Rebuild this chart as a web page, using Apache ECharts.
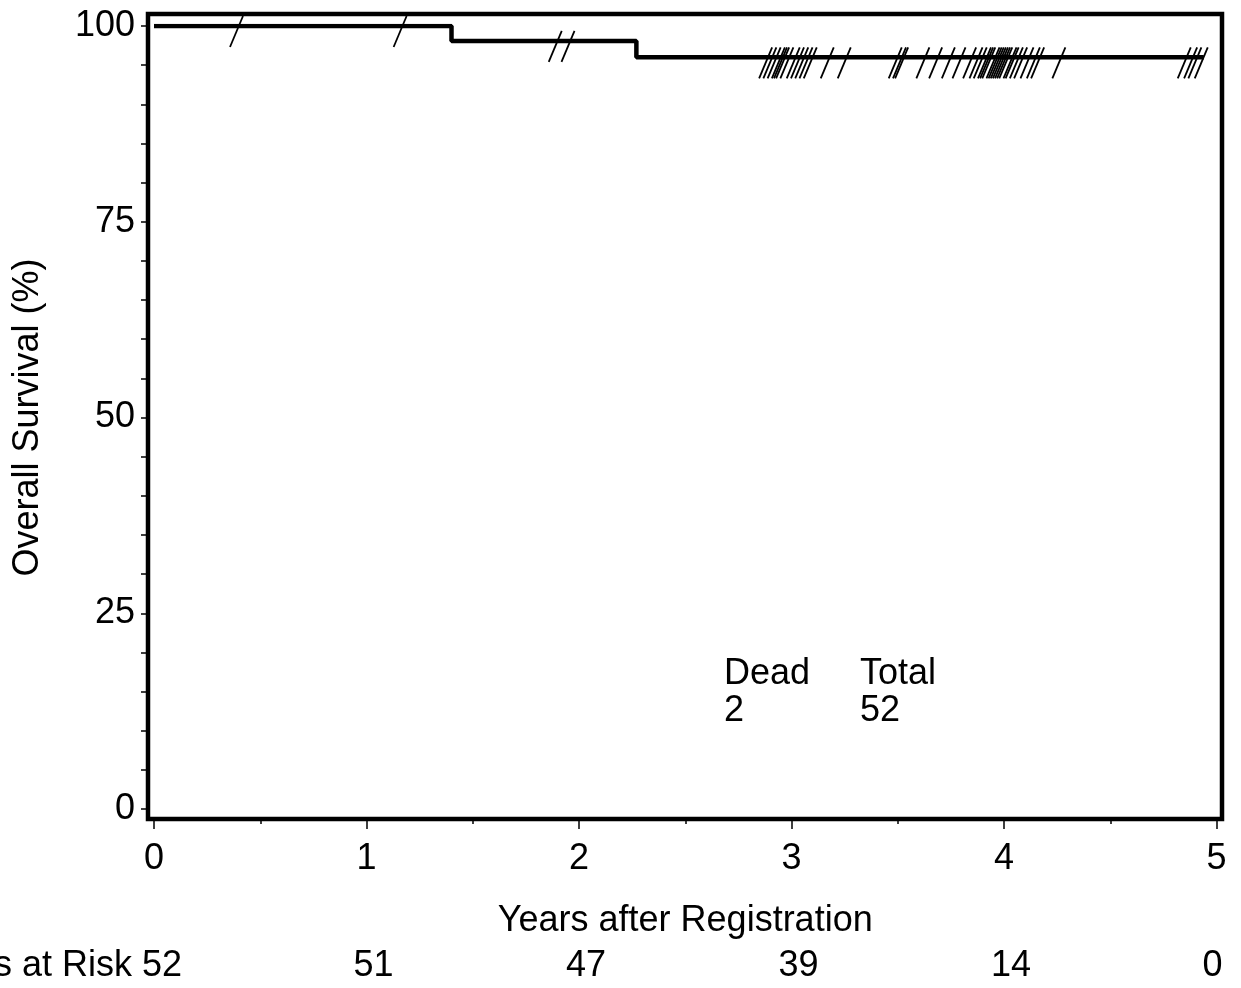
<!DOCTYPE html>
<html lang="en">

<head>
    <meta charset="UTF-8">
    <title>Overall Survival</title>
    <script src="https://cdnjs.cloudflare.com/ajax/libs/echarts/6.0.0/echarts.min.js"></script>
    <style>
        body {
            margin: 0;
            background: #fff;
        }
    </style>
</head>

<body>
    <div id="main" style="width: 1241px;height:988px;"></div>

    <script>
        // survival steps (years, %)
        const stepTimes = [0, 1.40, 2.27];
        const stepSurvival = [100, 98.1, 96.0];
        const lastFollowUp = 4.94;

        // censored patients (years)
        const censorTimes = [
            0.40, 1.17, 1.90, 1.96,
            2.89, 2.91, 2.93, 2.95, 2.96, 2.97, 2.99,
            3.02, 3.04, 3.06, 3.08, 3.10, 3.18, 3.26,
            3.50, 3.52, 3.53,
            3.63, 3.69, 3.75, 3.80, 3.85,
            3.88, 3.90, 3.92, 3.93, 3.94, 3.96, 3.97, 3.98, 3.99, 4.00,
            4.01, 4.02, 4.04, 4.05, 4.07, 4.09, 4.12, 4.15, 4.17, 4.27,
            4.86, 4.89, 4.91, 4.94
        ];

        const riskTimes = [0, 1, 2, 3, 4, 5];
        const atRisk = [52, 51, 47, 39, 14, 0];

        const summaryNames = ["Dead", "Total"];
        const summaryValues = [2, 52];

        const FONT = "'Liberation Sans', Arial, sans-serif";
        const FS = 36;
        const chart = echarts.init(document.getElementById('main'));

        function survivalAt(t) {
            let s = stepSurvival[0];
            for (let i = 0; i < stepTimes.length; i++) {
                if (stepTimes[i] <= t) s = stepSurvival[i];
            }
            return s;
        }

        const curve = stepTimes.map((t, i) => [t, stepSurvival[i]]);
        curve.push([lastFollowUp, survivalAt(lastFollowUp)]);
        const censorData = censorTimes.map(t => [t, survivalAt(t)]);

        const option = {
            animation: false,
            backgroundColor: '#fff',
            grid: [
                { left: 154, right: 24.5, top: 26, bottom: 179 },
                { left: 148, right: 19, top: 14, bottom: 169, show: true, borderColor: '#000', borderWidth: 4.5, backgroundColor: 'transparent', z: 5 }
            ],
            xAxis: [
                {
                    gridIndex: 0, type: 'value', min: 0, max: 5, interval: 1, offset: 10,
                    name: 'Years after Registration', nameLocation: 'middle', nameGap: 84,
                    nameTextStyle: { fontFamily: FONT, fontSize: FS, color: '#000' },
                    axisLine: { show: true, onZero: false, lineStyle: { color: '#000', width: 1 } },
                    axisTick: { show: true, inside: false, length: 10, lineStyle: { color: '#000', width: 1.5 } },
                    minorTick: { show: true, splitNumber: 2, length: 5, lineStyle: { color: '#000', width: 1.5 } },
                    axisLabel: { margin: 22, fontFamily: FONT, fontSize: FS, color: '#000' },
                    splitLine: { show: false }
                },
                { gridIndex: 1, type: 'value', min: 0, max: 1, show: false }
            ],
            yAxis: [
                {
                    gridIndex: 0, type: 'value', min: 0, max: 100, interval: 25, offset: 6,
                    name: 'Overall Survival (%)', nameLocation: 'middle', nameGap: 102,
                    nameTextStyle: { fontFamily: FONT, fontSize: FS, color: '#000' },
                    axisLine: { show: true, onZero: false, lineStyle: { color: '#000', width: 1 } },
                    axisTick: { show: true, inside: false, length: 7, lineStyle: { color: '#000', width: 1.5 } },
                    minorTick: { show: true, splitNumber: 5, length: 7, lineStyle: { color: '#000', width: 1.5 } },
                    axisLabel: { margin: 13, fontFamily: FONT, fontSize: FS, color: '#000' },
                    splitLine: { show: false }
                },
                { gridIndex: 1, type: 'value', min: 0, max: 1, show: false }
            ],
            series: [
                {
                    type: 'line',
                    xAxisIndex: 0, yAxisIndex: 0,
                    data: curve,
                    step: 'end',
                    showSymbol: false,
                    lineStyle: { color: '#000', width: 4.5 },
                    z: 3
                },
                {
                    type: 'custom',
                    xAxisIndex: 0, yAxisIndex: 0,
                    data: censorData,
                    renderItem: (params, api) => {
                        const p = api.coord([api.value(0), api.value(1)]);
                        return {
                            type: 'line',
                            shape: { x1: p[0] - 9, y1: p[1] + 21, x2: p[0] + 4, y2: p[1] - 10 },
                            style: { stroke: '#000', lineWidth: 1.8 }
                        };
                    },
                    z: 4
                }
            ]
        };

        chart.setOption(option);

        // numbers at risk row + summary text
        const graphics = [];
        riskTimes.forEach((t, i) => {
            const x = chart.convertToPixel({ xAxisIndex: 0 }, t);
            let text = String(atRisk[i]);
            let align = 'center';
            let px = x + 7;
            if (i === 0) {
                text = 'Patients at Risk ' + atRisk[i];
                align = 'right';
                px = x + 28;
            } else if (i === riskTimes.length - 1) {
                align = 'right';
                px = x + 6;
            }
            graphics.push({
                type: 'text', x: px, y: 966,
                style: { text: text, align: align, verticalAlign: 'middle', font: FS + 'px ' + FONT, fill: '#000' }
            });
        });

        const sumX = [724, 860];
        summaryNames.forEach((n, i) => {
            graphics.push({
                type: 'text', x: sumX[i], y: 674,
                style: { text: n, align: 'left', verticalAlign: 'middle', font: FS + 'px ' + FONT, fill: '#000' }
            });
            graphics.push({
                type: 'text', x: sumX[i], y: 711,
                style: { text: String(summaryValues[i]), align: 'left', verticalAlign: 'middle', font: FS + 'px ' + FONT, fill: '#000' }
            });
        });

        chart.setOption({ graphic: graphics });
    </script>
</body>

</html>
